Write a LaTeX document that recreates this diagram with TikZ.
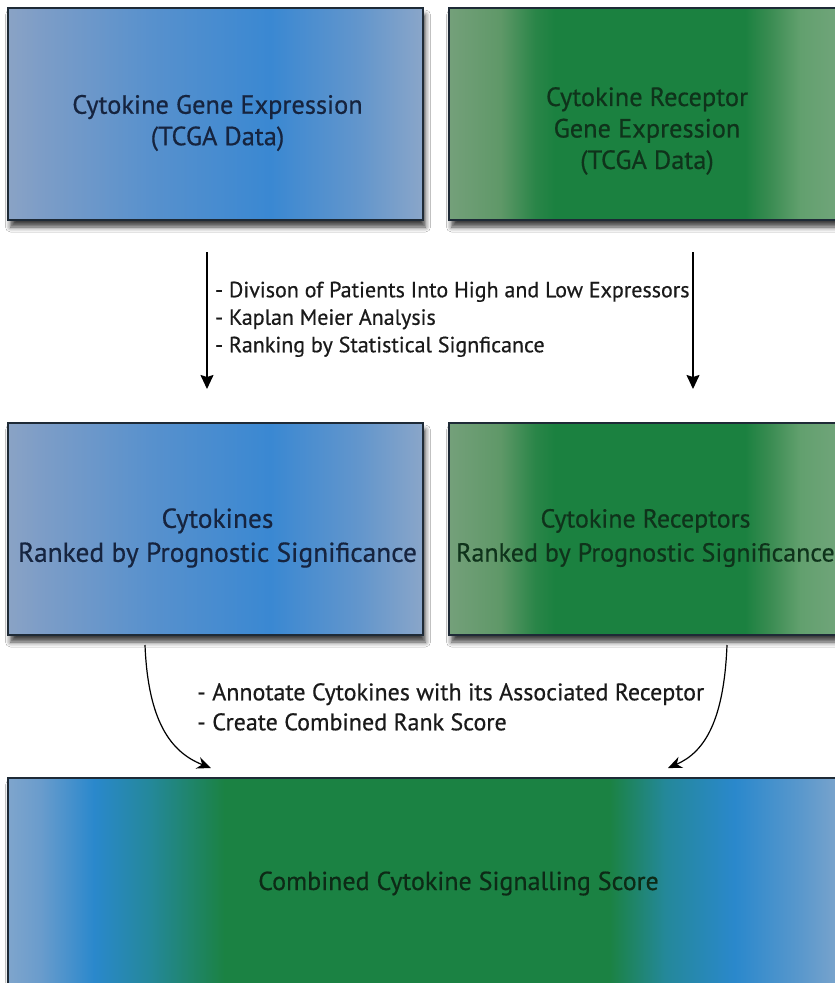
\documentclass[tikz,border=0pt]{standalone}
\usepackage{fontspec}
\setmainfont{PT Sans}[UprightFeatures={FakeBold=0.5}]
\usetikzlibrary{arrows.meta,shadows.blur}
\definecolor{b1}{HTML}{8AA3C5}
\definecolor{b2}{HTML}{7D9DC7}
\definecolor{b3}{HTML}{5891CD}
\definecolor{b4}{HTML}{3A88D2}
\definecolor{b5}{HTML}{6396CC}
\definecolor{b6}{HTML}{8AA6C9}
\definecolor{g1}{HTML}{74A07A}
\definecolor{g2}{HTML}{5F9868}
\definecolor{g3}{HTML}{2A8548}
\definecolor{g4}{HTML}{1B8140}
\definecolor{g5}{HTML}{3A8C52}
\definecolor{g6}{HTML}{62A06E}
\definecolor{g7}{HTML}{75A67E}
\definecolor{c1}{HTML}{7FA5CC}
\definecolor{c2}{HTML}{6A9CCC}
\definecolor{c3}{HTML}{2A88CC}
\definecolor{c4}{HTML}{24889A}
\definecolor{c5}{HTML}{1B8243}
\definecolor{c6}{HTML}{5A98CC}
\definecolor{c7}{HTML}{86A8CC}
\definecolor{boxline}{HTML}{1E2A36}
\definecolor{bluetxt}{HTML}{16243F}
\definecolor{greentxt}{HTML}{0F331B}
\definecolor{combtxt}{HTML}{0D2A16}
\definecolor{notetxt}{HTML}{1A1A1A}
\pgfdeclarehorizontalshading{blueshade}{100bp}{color(0bp)=(b1); color(25bp)=(b1); color(28.9bp)=(b2); color(42.1bp)=(b3); color(56.6bp)=(b4); color(67.4bp)=(b5); color(75bp)=(b6); color(100bp)=(b6)}
\pgfdeclarehorizontalshading{greenshade}{100bp}{color(0bp)=(g1); color(25bp)=(g1); color(31.4bp)=(g2); color(35.75bp)=(g3); color(38.25bp)=(g4); color(62bp)=(g4); color(65.1bp)=(g5); color(68.9bp)=(g6); color(75bp)=(g7); color(100bp)=(g7)}
\pgfdeclarehorizontalshading{combshade}{100bp}{color(0bp)=(c1); color(25bp)=(c1); color(26.9bp)=(c2); color(30.1bp)=(c3); color(33.4bp)=(c4); color(37.8bp)=(c5); color(60.6bp)=(c5); color(63.9bp)=(c4); color(68bp)=(c3); color(71.9bp)=(c6); color(75bp)=(c7); color(100bp)=(c7)}
\begin{document}
\begin{tikzpicture}[x=1pt,y=-1pt,
  boxbase/.style={draw=boxline, line width=1.4pt, inner sep=0pt, rectangle,
     blur shadow={shadow xshift=2.5pt, shadow yshift=-7pt, shadow blur radius=5pt, shadow opacity=75}},
  bluebox/.style={boxbase, shading=blueshade},
  greenbox/.style={boxbase, shading=greenshade},
  combbox/.style={boxbase, shading=combshade},
  boxtext/.style={inner sep=0pt, align=center},
  bluetext/.style={boxtext, text=bluetxt},
  greentext/.style={boxtext, text=greentxt},
  toptext/.style={font=\fontsize{26.4}{31.5}\selectfont},
  midtext/.style={font=\fontsize{27.4}{34}\selectfont},
  midtextr/.style={font=\fontsize{26}{34}\selectfont},
  noteone/.style={inner sep=0pt, align=left, text=notetxt, font=\fontsize{22}{27.5}\selectfont, anchor=north west},
  notetwo/.style={inner sep=0pt, align=left, text=notetxt, font=\fontsize{24}{30}\selectfont, anchor=north west},
  combtext/.style={inner sep=0pt, text=combtxt, font=\fontsize{26}{30}\selectfont, anchor=base west},
  arr/.style={line width=1.4pt, -{Stealth[length=14pt,width=13pt,inset=2pt]}},
  carr/.style={line width=1.2pt, -{Stealth[length=14pt,width=12pt,inset=4.5pt]}},
]
\useasboundingbox (0,0) rectangle (835,983);
\fill[white] (0,0) rectangle (835,983);
% boxes
\node[bluebox, minimum width=415pt, minimum height=212pt] (tl) at (215.5,114) {};
\node[greenbox, minimum width=400pt, minimum height=212pt] (tr) at (649,114) {};
\node[bluebox, minimum width=415pt, minimum height=212pt] (ml) at (215.5,529) {};
\node[greenbox, minimum width=400pt, minimum height=212pt] (mr) at (649,529) {};
\node[combbox, minimum width=845pt, minimum height=212pt] (bt) at (430.5,884) {};
% box texts
\node[bluetext, toptext] (tlt) at (217.5,123) {Cytokine Gene Expression\\(TCGA Data)};
\node[greentext, toptext] (trt) at (647,131) {Cytokine Receptor\\Gene Expression\\(TCGA Data)};
\node[bluetext, midtext] (mlt) at (217.5,538) {Cytokines\\Ranked by Prognostic Significance};
\node[greentext, midtextr] (mrt) at (645.5,538) {Cytokine Receptors\\Ranked by Prognostic Significance};
\node[combtext] (btt) at (258,890) {Combined Cytokine Signalling Score};
% notes
\node[noteone] (n1) at (215,281.5) {- Divison of Patients Into High and Low Expressors\\- Kaplan Meier Analysis\\- Ranking by Statistical Signficance};
\node[notetwo] (n2) at (197,683) {- Annotate Cytokines with its Associated Receptor\\- Create Combined Rank Score};
% arrows
\coordinate (a1s) at (207,252);
\coordinate (a1e) at (207,389);
\coordinate (a2s) at (693,252);
\coordinate (a2e) at (693,389);
\draw[arr] (a1s) -- (a1e);
\draw[arr] (a2s) -- (a2e);
\coordinate (c1s) at (145,645);
\coordinate (c1e) at (211,768);
\coordinate (c2s) at (727,645);
\coordinate (c2e) at (668,768);
\draw[carr] (c1s) .. controls (148,720) and (170,752) .. (c1e);
\draw[carr] (c2s) .. controls (724,720) and (705,752) .. (c2e);
\end{tikzpicture}
\end{document}
